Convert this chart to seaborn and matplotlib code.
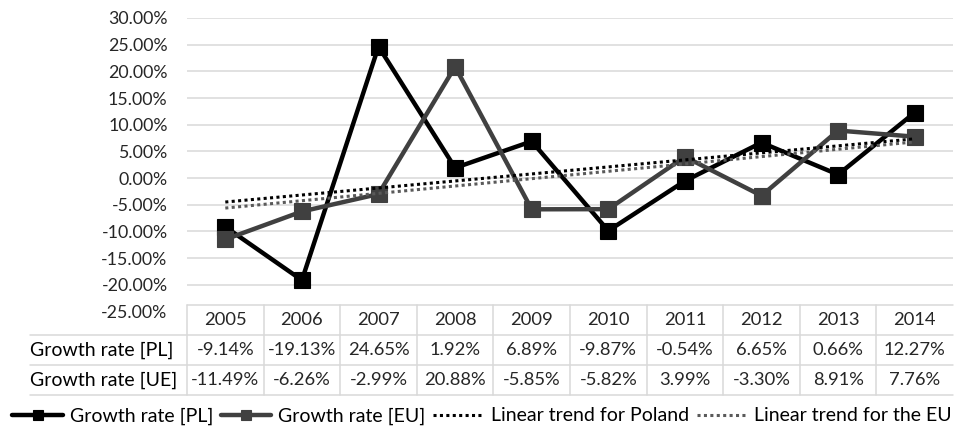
import numpy as np
import pandas as pd
import matplotlib
matplotlib.use("Agg")
import matplotlib.pyplot as plt
import seaborn as sns
from matplotlib.lines import Line2D
from matplotlib.transforms import blended_transform_factory
from matplotlib.ticker import FuncFormatter

# --- data -------------------------------------------------------------
years = [2005, 2006, 2007, 2008, 2009, 2010, 2011, 2012, 2013, 2014]
growth_pl = [-9.14, -19.13, 24.65, 1.92, 6.89, -9.87, -0.54, 6.65, 0.66, 12.27]
growth_eu = [-11.49, -6.26, -2.99, 20.88, -5.85, -5.82, 3.99, -3.30, 8.91, 7.76]
row_labels = ["Growth rate [PL]", "Growth rate [UE]"]
series_labels = ["Growth rate [PL]", "Growth rate [EU]",
                 "Linear trend for Poland", "Linear trend for the EU"]
y_ticks = [-25, -20, -15, -10, -5, 0, 5, 10, 15, 20, 25, 30]

# --- style ------------------------------------------------------------
sns.set_theme(style="white")
plt.rcParams["font.family"] = ["Lato", "DejaVu Sans"]
FS = 12.8
TEXT = "#262626"
GRID = "#d9d9d9"
PL_COLOR = "#000000"
EU_COLOR = "#404040"

W, H = 964, 426
fig = plt.figure(figsize=(W / 100, H / 100), dpi=100)


def fy(py):
    """pixel row (from top) -> figure fraction"""
    return 1 - py / H


left_px, right_px, top_px, bottom_px = 187, 953, 18, 311.5
ax = fig.add_axes([left_px / W, fy(bottom_px), (right_px - left_px) / W,
                   (bottom_px - top_px) / H])

idx = np.arange(len(years))
df = pd.DataFrame({"pos": idx, "pl": growth_pl, "eu": growth_eu})

sns.lineplot(data=df, x="pos", y="pl", ax=ax, color=PL_COLOR, lw=3.2,
             marker="s", markersize=12, markeredgecolor=PL_COLOR,
             markeredgewidth=0.8, label=series_labels[0], zorder=3)
sns.lineplot(data=df, x="pos", y="eu", ax=ax, color=EU_COLOR, lw=3.2,
             marker="s", markersize=12, markeredgecolor=EU_COLOR,
             markeredgewidth=0.8, label=series_labels[1], zorder=3)

# least-squares trend lines for both series
for col, color, lab in [("pl", PL_COLOR, series_labels[2]),
                        ("eu", "#5a5a5a", series_labels[3])]:
    k, b = np.polyfit(df["pos"], df[col], 1)
    trend = pd.DataFrame({"pos": idx, "val": k * idx + b})
    sns.lineplot(data=trend, x="pos", y="val", ax=ax, color=color, lw=2.2,
                 linestyle=(0, (1, 1.1)), label=lab, zorder=4)

ax.set_xlim(-0.5, len(years) - 0.5)
ax.set_ylim(-25, 30)
ax.set_yticks(y_ticks)
ax.yaxis.set_major_formatter(FuncFormatter(lambda v, p: f"{v:.2f}%"))
ax.tick_params(axis="y", length=0, pad=14, labelsize=FS, labelcolor=TEXT)
ax.set_xticks([])
ax.set_xlabel("")
ax.set_ylabel("")
ax.grid(axis="y", color=GRID, lw=1.1)
ax.set_axisbelow(True)
for s in ax.spines.values():
    s.set_visible(False)
# the lowest gridline sits under the data table
ax.yaxis.get_gridlines()[0].set_visible(False)

handles, labels = ax.get_legend_handles_labels()
ax.get_legend().remove()

# --- data table below the plot ---------------------------------------
tr = blended_transform_factory(ax.transData, fig.transFigure)
tbl_top, row_h = 305, 30
rows_y = [tbl_top + i * row_h for i in range(4)]
lab_left = 30 / W
line_kw = dict(color=GRID, lw=1.1)

fig.add_artist(Line2D([-0.5, len(years) - 0.5], [fy(rows_y[0])] * 2,
                      transform=tr, **line_kw))
for ry in rows_y[1:]:
    fig.add_artist(Line2D([lab_left, right_px / W], [fy(ry)] * 2,
                          transform=fig.transFigure, **line_kw))
for i in range(len(years)):
    fig.add_artist(Line2D([i - 0.5, i - 0.5], [fy(rows_y[0]), fy(rows_y[-1])],
                          transform=tr, **line_kw))

for i, yr in enumerate(years):
    fig.text(i, fy(rows_y[0] + row_h / 2), str(yr), transform=tr,
             ha="center", va="center", fontsize=FS + 0.4, color=TEXT)
for r, vals in enumerate([growth_pl, growth_eu]):
    cy = fy(rows_y[r + 1] + row_h / 2)
    fig.text(lab_left, cy, row_labels[r], ha="left", va="center",
             fontsize=14, color="#000000")
    for i, v in enumerate(vals):
        fig.text(i, cy, f"{v:.2f}%", transform=tr, ha="center",
                 va="center", fontsize=FS + 0.4, color=TEXT)

# --- legend -----------------------------------------------------------
leg = fig.legend(handles, labels, loc="center", ncol=4,
                 bbox_to_anchor=(0.5, fy(416)), frameon=False,
                 fontsize=14, handlelength=2.6, handletextpad=0.35,
                 columnspacing=0.4, markerscale=0.65, borderaxespad=0)
for t in leg.get_texts():
    t.set_color("#000000")

fig.savefig("out.png", dpi=100)
